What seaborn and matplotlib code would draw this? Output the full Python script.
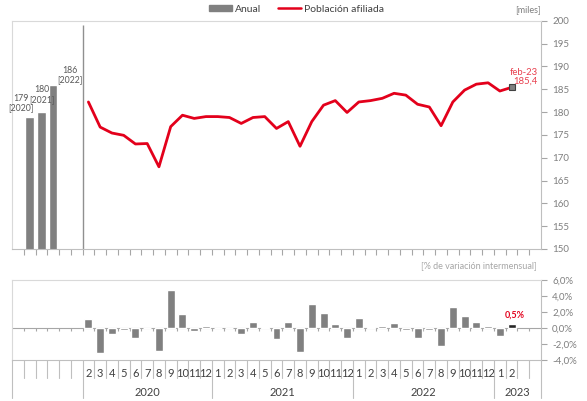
import matplotlib
matplotlib.use('Agg')
import matplotlib.pyplot as plt
import matplotlib.transforms as mtransforms
from matplotlib.lines import Line2D
from matplotlib.patches import Patch
import numpy as np
import seaborn as sns

# annual averages (thousands of affiliates)
annual_years = ['2020', '2021', '2022']
annual_values = [179, 180, 186]

# monthly series feb-2020 .. feb-2023
month_labels = ['2', '3', '4', '5', '6', '7', '8', '9', '10', '11', '12',
                '1', '2', '3', '4', '5', '6', '7', '8', '9', '10', '11', '12',
                '1', '2', '3', '4', '5', '6', '7', '8', '9', '10', '11', '12',
                '1', '2']
affiliated = [182.2, 176.7, 175.4, 174.9, 173.0, 173.1, 168.0, 176.8, 179.3, 178.6,
              179.0, 179.0, 178.8, 177.5, 178.8, 179.0, 176.4, 177.9, 172.5, 177.9,
              181.5, 182.5, 179.9, 182.2, 182.5, 183.0, 184.1, 183.7, 181.7, 181.1,
              177.0, 182.2, 184.8, 186.1, 186.4, 184.6, 185.4]
monthly_change = [1.1, -3.1, -0.7, -0.25, -1.25, -0.05, -2.9, 4.7, 1.75, -0.4, 0.2,
                  0.05, -0.05, -0.8, 0.7, 0.1, -1.4, 0.8, -3.0, 3.05, 1.9, 0.55, -1.3,
                  1.25, 0.15, 0.3, 0.6, -0.3, -1.2, -0.25, -2.3, 2.6, 1.5, 0.75, 0.25,
                  -1.05, 0.5]
year_labels = ['2020', '2021', '2022', '2023']
year_slots = [(6, 16), (17, 28), (29, 40), (41, 44)]

RED = '#E3001B'
GREY = '#808080'
TXT = '#595959'
n_slots = 45
annual_slots = [1, 2, 3]
month_slots = list(range(6, 6 + len(affiliated)))

sns.set_theme(style='white')
plt.rcParams['font.family'] = ['Lato', 'DejaVu Sans']

fig = plt.figure(figsize=(5.87, 4.01), dpi=100)
ax_top = fig.add_axes([12/587, 1 - 249/401, 529/587, (249 - 20.7)/401])
ax_bot = fig.add_axes([12/587, 1 - 360/401, 529/587, 80/401])

# --- top panel: annual bars + monthly line
sns.barplot(x=annual_slots, y=annual_values, native_scale=True, color=GREY,
            saturation=1, width=0.72, ax=ax_top)
sns.lineplot(x=month_slots, y=affiliated, color=RED, lw=2, ax=ax_top)
ax_top.plot(month_slots[-1], affiliated[-1], 's', ms=4, mfc=GREY, mec='#404040', mew=0.8)

label_offsets = [(-6, 3), (0.5, 6), (12, 0.5)]
for s, v, yr, off in zip(annual_slots, annual_values, annual_years, label_offsets):
    ax_top.annotate(f'{v}\n[{yr}]', (s, v), xytext=off, textcoords='offset points',
                    ha='center', va='bottom', fontsize=6.3, color=TXT, linespacing=1.05)
ax_top.annotate(f'feb-23\n{affiliated[-1]:.1f}'.replace('.', ','),
                (month_slots[-1], affiliated[-1]), xytext=(19, 1), textcoords='offset points',
                ha='right', va='bottom', fontsize=6.8, color='#E8404E', linespacing=1.0)

ax_top.set_xlim(-0.5, n_slots - 0.5)
ax_top.set_ylim(150, 200)
ax_top.set_yticks(np.arange(150, 201, 5))
ax_top.yaxis.tick_right()
ax_top.set_xticks(np.arange(0.5, n_slots - 0.5, 1))
ax_top.set_xticklabels([])
ax_top.set_xlabel('')
ax_top.set_ylabel('')
ax_top.tick_params(axis='x', direction='out', length=4, color='#A6A6A6', width=0.8, bottom=True)
ax_top.tick_params(axis='y', direction='out', length=4, color='#A6A6A6', width=0.8,
                   right=True, left=False, labelsize=7, labelcolor='#7F7F7F', pad=4)
ax_top.vlines(5.5, 150, 199, color='#909090', lw=1)
for side in ['top', 'left']:
    ax_top.spines[side].set_color('#D9D9D9')
for side in ['right', 'bottom']:
    ax_top.spines[side].set_color('#BFBFBF')
for sp in ax_top.spines.values():
    sp.set_linewidth(0.8)

# --- bottom panel: monthly % change
kinds = ['prev'] * (len(monthly_change) - 1) + ['last']
sns.barplot(x=month_slots, y=monthly_change, hue=kinds, native_scale=True,
            palette={'prev': GREY, 'last': '#262626'}, saturation=1, width=0.68,
            dodge=False, legend=False, ax=ax_bot)
ax_bot.annotate(f'{monthly_change[-1]:.1f}%'.replace('.', ','),
                (month_slots[-1], monthly_change[-1]), xytext=(2, 3), textcoords='offset points',
                ha='center', va='bottom', fontsize=6.5, color=RED, fontweight='bold')

ax_bot.set_xlim(-0.5, n_slots - 0.5)
ax_bot.set_ylim(-4, 6)
ax_bot.set_yticks(np.arange(-4, 7, 2))
ax_bot.set_yticklabels([f'{t:.1f}%'.replace('.', ',') for t in np.arange(-4, 7, 2)])
ax_bot.yaxis.tick_right()
ax_bot.set_xticks([])
ax_bot.set_xlabel('')
ax_bot.set_ylabel('')
ax_bot.tick_params(axis='y', direction='out', length=4, color='#A6A6A6', width=0.8,
                   right=True, left=False, labelsize=7, labelcolor='#7F7F7F', pad=4)
ax_bot.axhline(0, color='#A6A6A6', lw=0.8, zorder=0)
bounds = np.arange(0.5, n_slots - 0.5, 1)
ax_bot.vlines(bounds, -0.4, 0, color='#A6A6A6', lw=0.8, zorder=0)
for side in ['top', 'left']:
    ax_bot.spines[side].set_color('#D9D9D9')
for side in ['right', 'bottom']:
    ax_bot.spines[side].set_color('#BFBFBF')
for sp in ax_bot.spines.values():
    sp.set_linewidth(0.8)

# multi-level category labels below the bottom panel
trans = mtransforms.blended_transform_factory(ax_bot.transData, ax_bot.transAxes)
year_edges = [-0.5] + [end + 0.5 for _, end in year_slots] + [5.5]
for b in bounds:
    if b in year_edges:
        continue
    ax_bot.add_line(Line2D([b, b], [0, -0.23], transform=trans, color='#BFBFBF',
                           lw=0.8, clip_on=False))
for b in year_edges:
    ax_bot.add_line(Line2D([b, b], [0, -0.48], transform=trans, color='#BFBFBF',
                           lw=0.8, clip_on=False))
for s, lab in zip(month_slots, month_labels):
    ax_bot.text(s, -0.165, lab, transform=trans, ha='center', va='center',
                fontsize=8, color='#404040')
for (a, b), yl in zip(year_slots, year_labels):
    ax_bot.text((a + b) / 2, -0.40, yl, transform=trans, ha='center', va='center',
                fontsize=8, color='#404040')

# legend and unit labels
handles = [Patch(color=GREY), Line2D([], [], color=RED, lw=1.8)]
fig.legend(handles, ['Anual', 'Población afiliada'], loc='upper center',
           bbox_to_anchor=(0.505, 1.012), ncol=2, frameon=False, fontsize=7.5,
           handlelength=2.2, handleheight=0.5, columnspacing=1.6, handletextpad=0.3,
           labelcolor='#404040')
fig.text(541/587, 1 - 10/401, '[miles]', ha='right', va='center', fontsize=6.5, color='#7F7F7F')
fig.text(537/587, 1 - 266/401, '[% de variación intermensual]', ha='right', va='center',
         fontsize=6.5, color='#A6A6A6')

fig.savefig('out.png', dpi=100)
